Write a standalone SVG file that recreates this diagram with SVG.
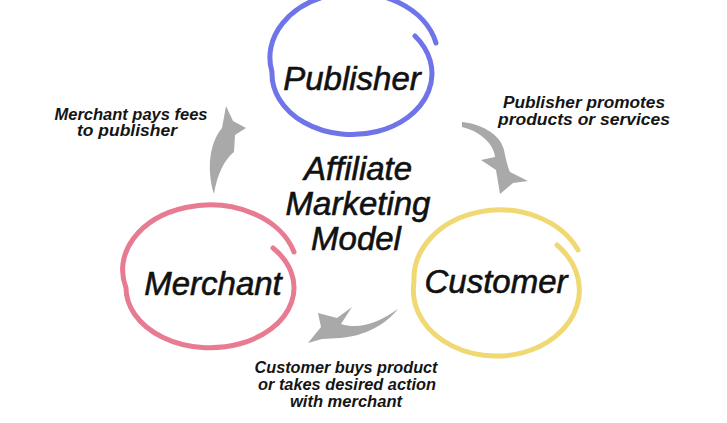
<svg xmlns="http://www.w3.org/2000/svg" width="727" height="423" viewBox="0 0 727 423">
<defs>
<style>
.ring{fill:none;stroke-width:5;stroke-linecap:round}
.big{font-family:"Liberation Sans",Arial,sans-serif;font-style:italic;font-size:33px;fill:#111;stroke:#111;stroke-width:0.6;text-anchor:middle}
.lbl{font-family:"Liberation Sans",Arial,sans-serif;font-style:italic;font-weight:bold;font-size:16px;fill:#151515;text-anchor:middle}
.arrow{fill:#a9a9a9;stroke:none}
</style>
</defs>
<rect width="727" height="423" fill="#fff"/>
<g id="publisher">
<path class="ring" stroke="#6f74e8" d="M415,36 A80 61 0 1 1 272,72 A83 64 0 0 1 436,43"/>
<text class="big" x="352" y="90">Publisher</text>
</g>
<g id="merchant">
<path class="ring" stroke="#e87b92" d="M273,248 A84 60 0 1 1 126,288 A86 64 0 0 1 294,252"/>
<text class="big" x="213" y="295">Merchant</text>
</g>
<g id="customer">
<path class="ring" stroke="#f0d873" d="M557,245 A83 66 0 1 1 414,282 A86 69 0 0 1 578,250"/>
<text class="big" x="496" y="293">Customer</text>
</g>
<g id="center">
<text class="big" x="358" y="180">Affiliate</text>
<text class="big" x="358" y="215">Marketing</text>
<text class="big" x="356" y="250">Model</text>
</g>
<g id="connectors">
<path class="arrow" d="M214,194 C208,175 207,146 222,128 L226,106 L233,121 L246,128 L235,135 L234,152 C224,160 217,175 214,194 Z"/>
<path class="arrow" d="M462,122 C480,124 500,133 504,150 C506,160 508,168 510,172 L528,181 L513,183 L500,194 L496,170 L481,160 L495,157 C494,145 482,132 462,127 Z"/>
<path class="arrow" d="M398,309 C385,325 365,336 340,338 L322,339 L308,343 L321,327 L318,313 L337,318 L352,307 L341,324 C360,330 380,322 398,309 Z"/>
</g>
<g id="labels">
<text class="lbl" x="131" y="120" textLength="153" lengthAdjust="spacingAndGlyphs">Merchant pays fees</text>
<text class="lbl" x="127" y="136" textLength="100" lengthAdjust="spacingAndGlyphs">to publisher</text>
<text class="lbl" x="584" y="108" textLength="162" lengthAdjust="spacingAndGlyphs">Publisher promotes</text>
<text class="lbl" x="584" y="125" textLength="172" lengthAdjust="spacingAndGlyphs">products or services</text>
<text class="lbl" x="346" y="373" textLength="183" lengthAdjust="spacingAndGlyphs">Customer buys product</text>
<text class="lbl" x="347" y="390" textLength="178" lengthAdjust="spacingAndGlyphs">or takes desired action</text>
<text class="lbl" x="346" y="407" textLength="112" lengthAdjust="spacingAndGlyphs">with merchant</text>
</g>
</svg>
